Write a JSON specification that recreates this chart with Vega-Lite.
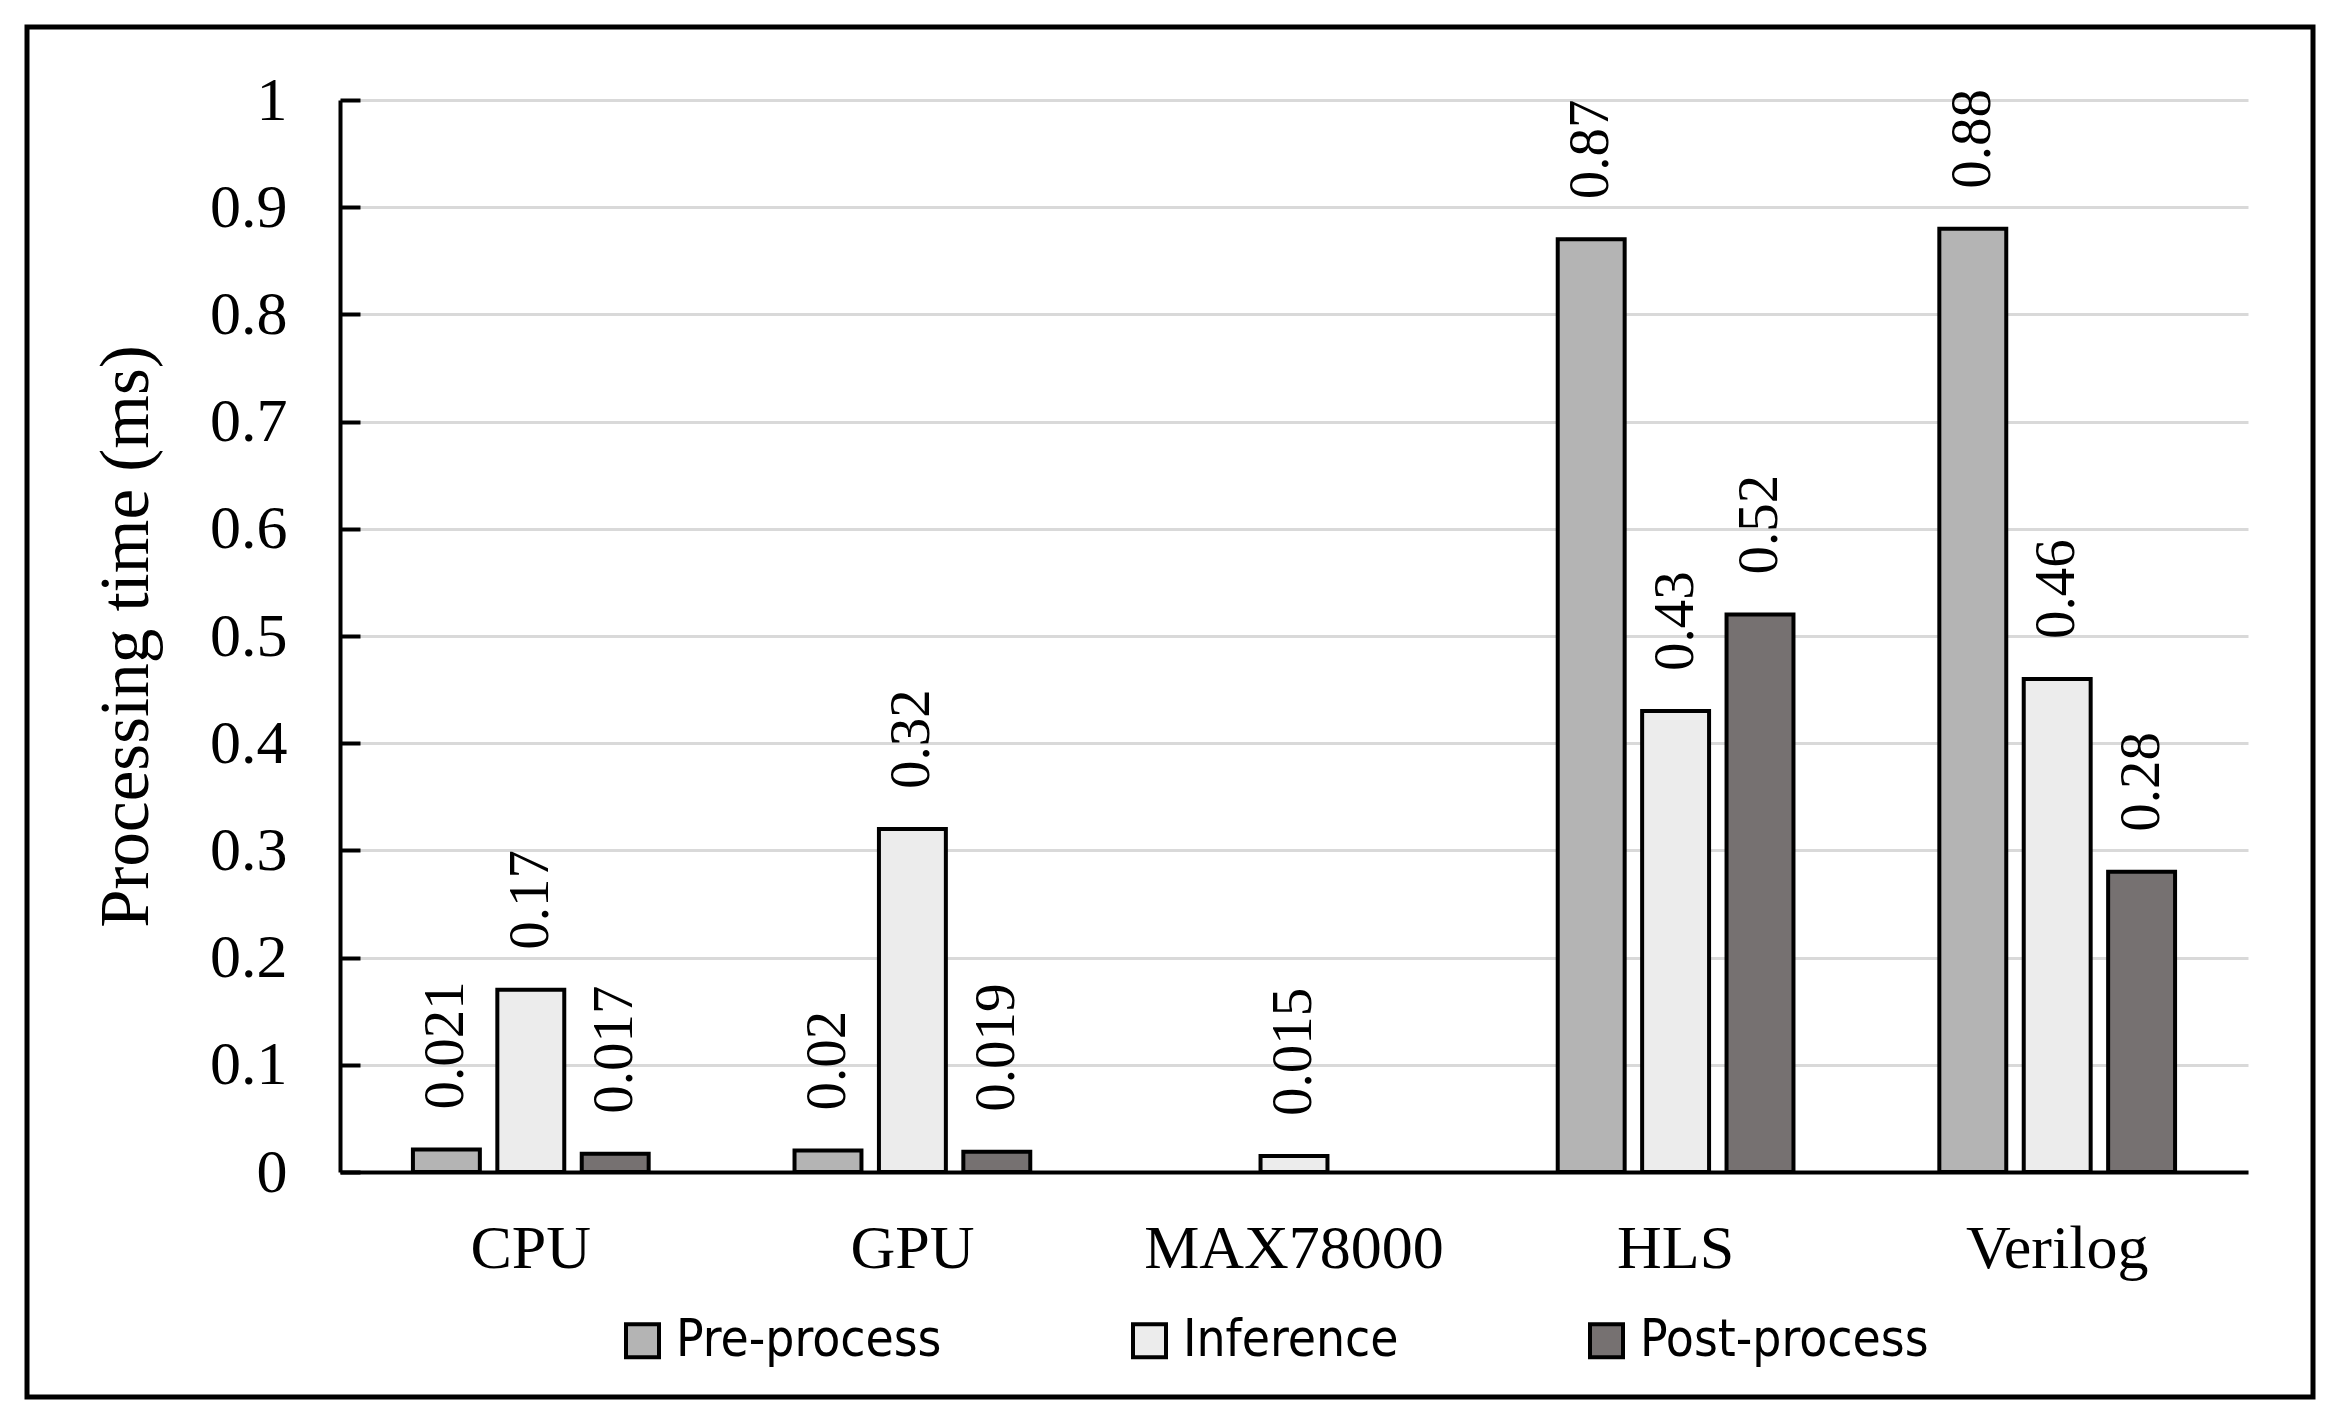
{
  "$schema": "https://vega.github.io/schema/vega-lite/v6.json",
  "autosize": "none",
  "padding": {"left": 27, "top": 27, "right": 26, "bottom": 20},
  "width": 2286,
  "height": 1370,
  "background": "white",
  "data": {
    "values": [
      {"platform": "CPU", "stage": "Pre-process", "time": 0.021},
      {"platform": "CPU", "stage": "Inference", "time": 0.17},
      {"platform": "CPU", "stage": "Post-process", "time": 0.017},
      {"platform": "GPU", "stage": "Pre-process", "time": 0.02},
      {"platform": "GPU", "stage": "Inference", "time": 0.32},
      {"platform": "GPU", "stage": "Post-process", "time": 0.019},
      {"platform": "MAX78000", "stage": "Inference", "time": 0.015},
      {"platform": "HLS", "stage": "Pre-process", "time": 0.87},
      {"platform": "HLS", "stage": "Inference", "time": 0.43},
      {"platform": "HLS", "stage": "Post-process", "time": 0.52},
      {"platform": "Verilog", "stage": "Pre-process", "time": 0.88},
      {"platform": "Verilog", "stage": "Inference", "time": 0.46},
      {"platform": "Verilog", "stage": "Post-process", "time": 0.28}
    ]
  },
  "encoding": {
    "x": {
      "field": "platform",
      "type": "nominal",
      "sort": ["CPU", "GPU", "MAX78000", "HLS", "Verilog"],
      "scale": {"range": [313, 2221], "paddingInner": 0, "paddingOuter": 0},
      "axis": {
        "title": null,
        "labelAngle": 0,
        "ticks": false,
        "offset": -225,
        "labelPadding": 46,
        "labelLimit": 1000,
        "domainColor": "black",
        "domainWidth": 4,
        "labelFont": "Liberation Serif",
        "labelFontSize": 62,
        "labelColor": "black"
      }
    },
    "xOffset": {
      "field": "stage",
      "type": "nominal",
      "sort": ["Pre-process", "Inference", "Post-process"],
      "scale": {"domain": ["Pre-process", "Inference", "Post-process"], "paddingInner": 0.207, "paddingOuter": 0.864}
    },
    "y": {
      "field": "time",
      "type": "quantitative",
      "scale": {"domain": [0, 1], "range": [1145, 73], "nice": false},
      "axis": {
        "title": "Processing time (ms)",
        "values": [0, 0.1, 0.2, 0.3, 0.4, 0.5, 0.6, 0.7, 0.8, 0.9, 1],
        "format": "~g",
        "offset": -313,
        "domainColor": "black",
        "domainWidth": 4,
        "tickColor": "black",
        "tickWidth": 4,
        "tickSize": -20,
        "labelPadding": 73,
        "labelFont": "Liberation Serif",
        "labelFontSize": 62,
        "labelColor": "black",
        "titleFont": "Liberation Serif",
        "titleFontSize": 69,
        "titleFontWeight": "normal",
        "titleColor": "black",
        "titlePadding": 48,
        "gridColor": "#d9d9d9",
        "gridWidth": 3
      }
    }
  },
  "layer": [
    {
      "mark": {"type": "bar", "stroke": "black", "strokeWidth": 4},
      "encoding": {
        "color": {
          "field": "stage",
          "type": "nominal",
          "sort": ["Pre-process", "Inference", "Post-process"],
          "scale": {"domain": ["Pre-process", "Inference", "Post-process"], "range": ["#b4b4b4", "#ececec", "#767171"]},
          "legend": {
            "title": null,
            "orient": "none",
            "legendX": 590,
            "legendY": 1288,
            "direction": "horizontal",
            "symbolType": "square",
            "symbolSize": 1089,
            "symbolStrokeColor": "black",
            "symbolStrokeWidth": 4,
            "symbolOpacity": 1,
            "labelFont": "DejaVu Sans Condensed, Roboto",
            "labelFontSize": 51,
            "labelColor": "black",
            "labelOffset": 8,
            "columnPadding": 182,
            "labelLimit": 500
          }
        }
      }
    },
    {
      "mark": {
        "type": "text",
        "angle": 270,
        "align": "left",
        "baseline": "middle",
        "dx": 40,
        "font": "Liberation Serif",
        "fontSize": 57,
        "color": "black"
      },
      "encoding": {
        "text": {"field": "time", "type": "quantitative", "format": "~g"}
      }
    }
  ],
  "config": {
    "view": {"stroke": "black", "strokeWidth": 5}
  }
}
